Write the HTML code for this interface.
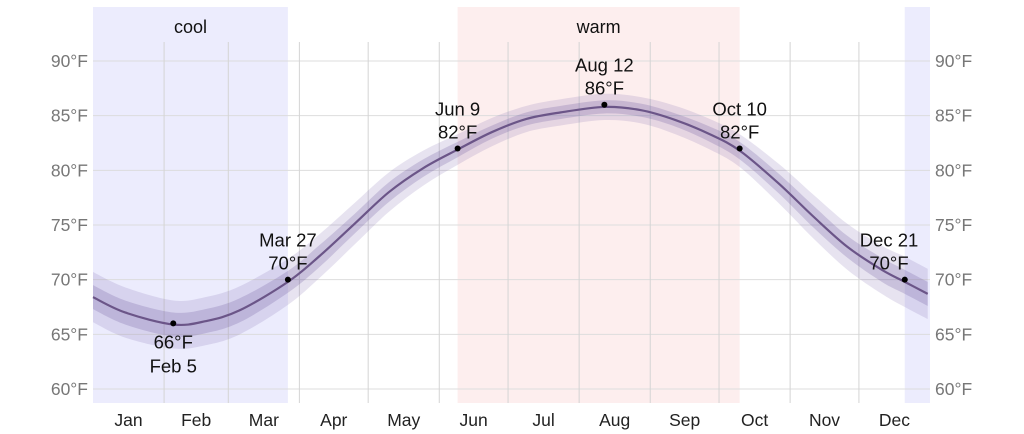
<!DOCTYPE html>
<html><head><meta charset="utf-8"><style>
body{margin:0;background:#fff}
svg{display:block;font-family:"Liberation Sans",sans-serif}
</style></head><body>
<svg id="c" width="1024" height="434"></svg>
<script>
const days=[1,15,36,50,65,86,100,115,130,145,160,175,190,205,224,240,255,270,283,300,315,330,345,355,365];
const meanT=[68.4,67.0,65.9,66.2,67.2,69.8,72.2,75.1,78.0,80.2,81.9,83.5,84.7,85.3,85.8,85.5,84.6,83.3,81.8,78.8,75.8,73.0,70.9,69.8,68.7];
const outerHW=[2.3,2.3,2.2,2.2,2.2,2.1,2.0,1.9,1.8,1.6,1.4,1.3,1.2,1.2,1.2,1.2,1.3,1.4,1.5,1.8,2.0,2.1,2.2,2.3,2.3];
const innerHW=[1.1,1.1,1.1,1.1,1.1,1.0,1.0,0.9,0.9,0.8,0.7,0.6,0.6,0.6,0.6,0.6,0.6,0.7,0.8,0.9,1.0,1.0,1.1,1.1,1.1];
const months=["Jan","Feb","Mar","Apr","May","Jun","Jul","Aug","Sep","Oct","Nov","Dec"];
const monthStart=[1,32,60,91,121,152,182,213,244,274,305,335];
const yTicks=[60,65,70,75,80,85,90];
const seasons=[{name:"cool",from:1,to:86,color:"#ececfd"},{name:"warm",from:160,to:283,color:"#fdeeee"},{name:"",from:355,to:366,color:"#ececfd"}];
const annots=[{d:36,t:66,lab:"Feb 5",below:true},{d:86,t:70,lab:"Mar 27"},{d:160,t:82,lab:"Jun 9"},{d:224,t:86,lab:"Aug 12"},{d:283,t:82,lab:"Oct 10"},{d:355,t:70,lab:"Dec 21"}];
const X0=93,X1=930;
const x=d=>X0+(d-1)*(X1-X0)/365;
const y=t=>389-(t-60)*328/30;
const svg=document.getElementById('c');
const NS="http://www.w3.org/2000/svg";
function mk(tag,attrs,parent){const e=document.createElementNS(NS,tag);for(const k in attrs)e.setAttribute(k,attrs[k]);(parent||svg).appendChild(e);return e;}
function smooth(pts,move){
 let s=(move?'M':'L')+pts[0][0]+','+pts[0][1];
 for(let i=0;i<pts.length-1;i++){
  const p0=pts[Math.max(i-1,0)],p1=pts[i],p2=pts[i+1],p3=pts[Math.min(i+2,pts.length-1)];
  s+=' C'+(p1[0]+(p2[0]-p0[0])/6)+','+(p1[1]+(p2[1]-p0[1])/6)+' '+(p2[0]-(p3[0]-p1[0])/6)+','+(p2[1]-(p3[1]-p1[1])/6)+' '+p2[0]+','+p2[1];
 }
 return s;
}
seasons.forEach(s=>{
 const r=mk('rect',{x:x(s.from),y:7,width:x(s.to)-x(s.from),height:396,fill:s.color});
 
 
 if(s.name){const t=mk('text',{x:(x(s.from)+x(s.to))/2,y:33,'text-anchor':'middle','font-size':18,fill:'#111'});t.textContent=s.name;
 
 }
});
yTicks.forEach(v=>{
 const l=mk('line',{x1:X0,x2:X1,y1:y(v),y2:y(v),stroke:'#ddd','stroke-width':1});
 
 
 const a=mk('text',{x:88,y:y(v)+6,'text-anchor':'end','font-size':17.5,fill:'#777'});a.textContent=v+'°F';
 
 
 const b=mk('text',{x:935,y:y(v)+6,'text-anchor':'start','font-size':17.5,fill:'#777'});b.textContent=v+'°F';
 
 
});
monthStart.forEach((d,i)=>{
 if(i>0){const l=mk('line',{x1:x(d),x2:x(d),y1:42,y2:403,stroke:'#d4d4d4','stroke-width':1});
 
 }
 const e=i<11?monthStart[i+1]:366;
 const t=mk('text',{x:(x(d)+x(e))/2,y:426,'text-anchor':'middle','font-size':17.5,fill:'#222'});t.textContent=months[i];
 
 
});
function band(hw,fill,name){
 const up=days.map((d,i)=>[x(d),y(meanT[i]+hw[i])]);
 const dn=days.map((d,i)=>[x(d),y(meanT[i]-hw[i])]).reverse();
 const e=mk('path',{d:smooth(up,true)+' '+smooth(dn,false)+' Z',fill:fill});
 
 
}
band(outerHW,'rgba(120,100,170,0.18)','outer-percentile-band');
band(innerHW,'rgba(110,90,160,0.25)','inner-percentile-band');
const line=mk('path',{d:smooth(days.map((d,i)=>[x(d),y(meanT[i])]),true),fill:'none',stroke:'#6b5588','stroke-width':2.2});


annots.forEach(a=>{
 const cx=x(a.d),cy=y(a.t);
 const c=mk('circle',{cx:cx,cy:cy,r:3,fill:'#000'});
 
 
 const tx=Math.min(cx,X1-41);
 const l1=mk('text',{x:tx,'text-anchor':'middle','font-size':18.5,fill:'#111'});
 const l2=mk('text',{x:tx,'text-anchor':'middle','font-size':18.5,fill:'#111'});
 if(a.below){l1.setAttribute('y',cy+25);l1.textContent=a.t+'°F';l2.setAttribute('y',cy+49);l2.textContent=a.lab;}
 else{l1.setAttribute('y',cy-33);l1.textContent=a.lab;l2.setAttribute('y',cy-10);l2.textContent=a.t+'°F';}
 
 
 
 
});
</script>
</body></html>
